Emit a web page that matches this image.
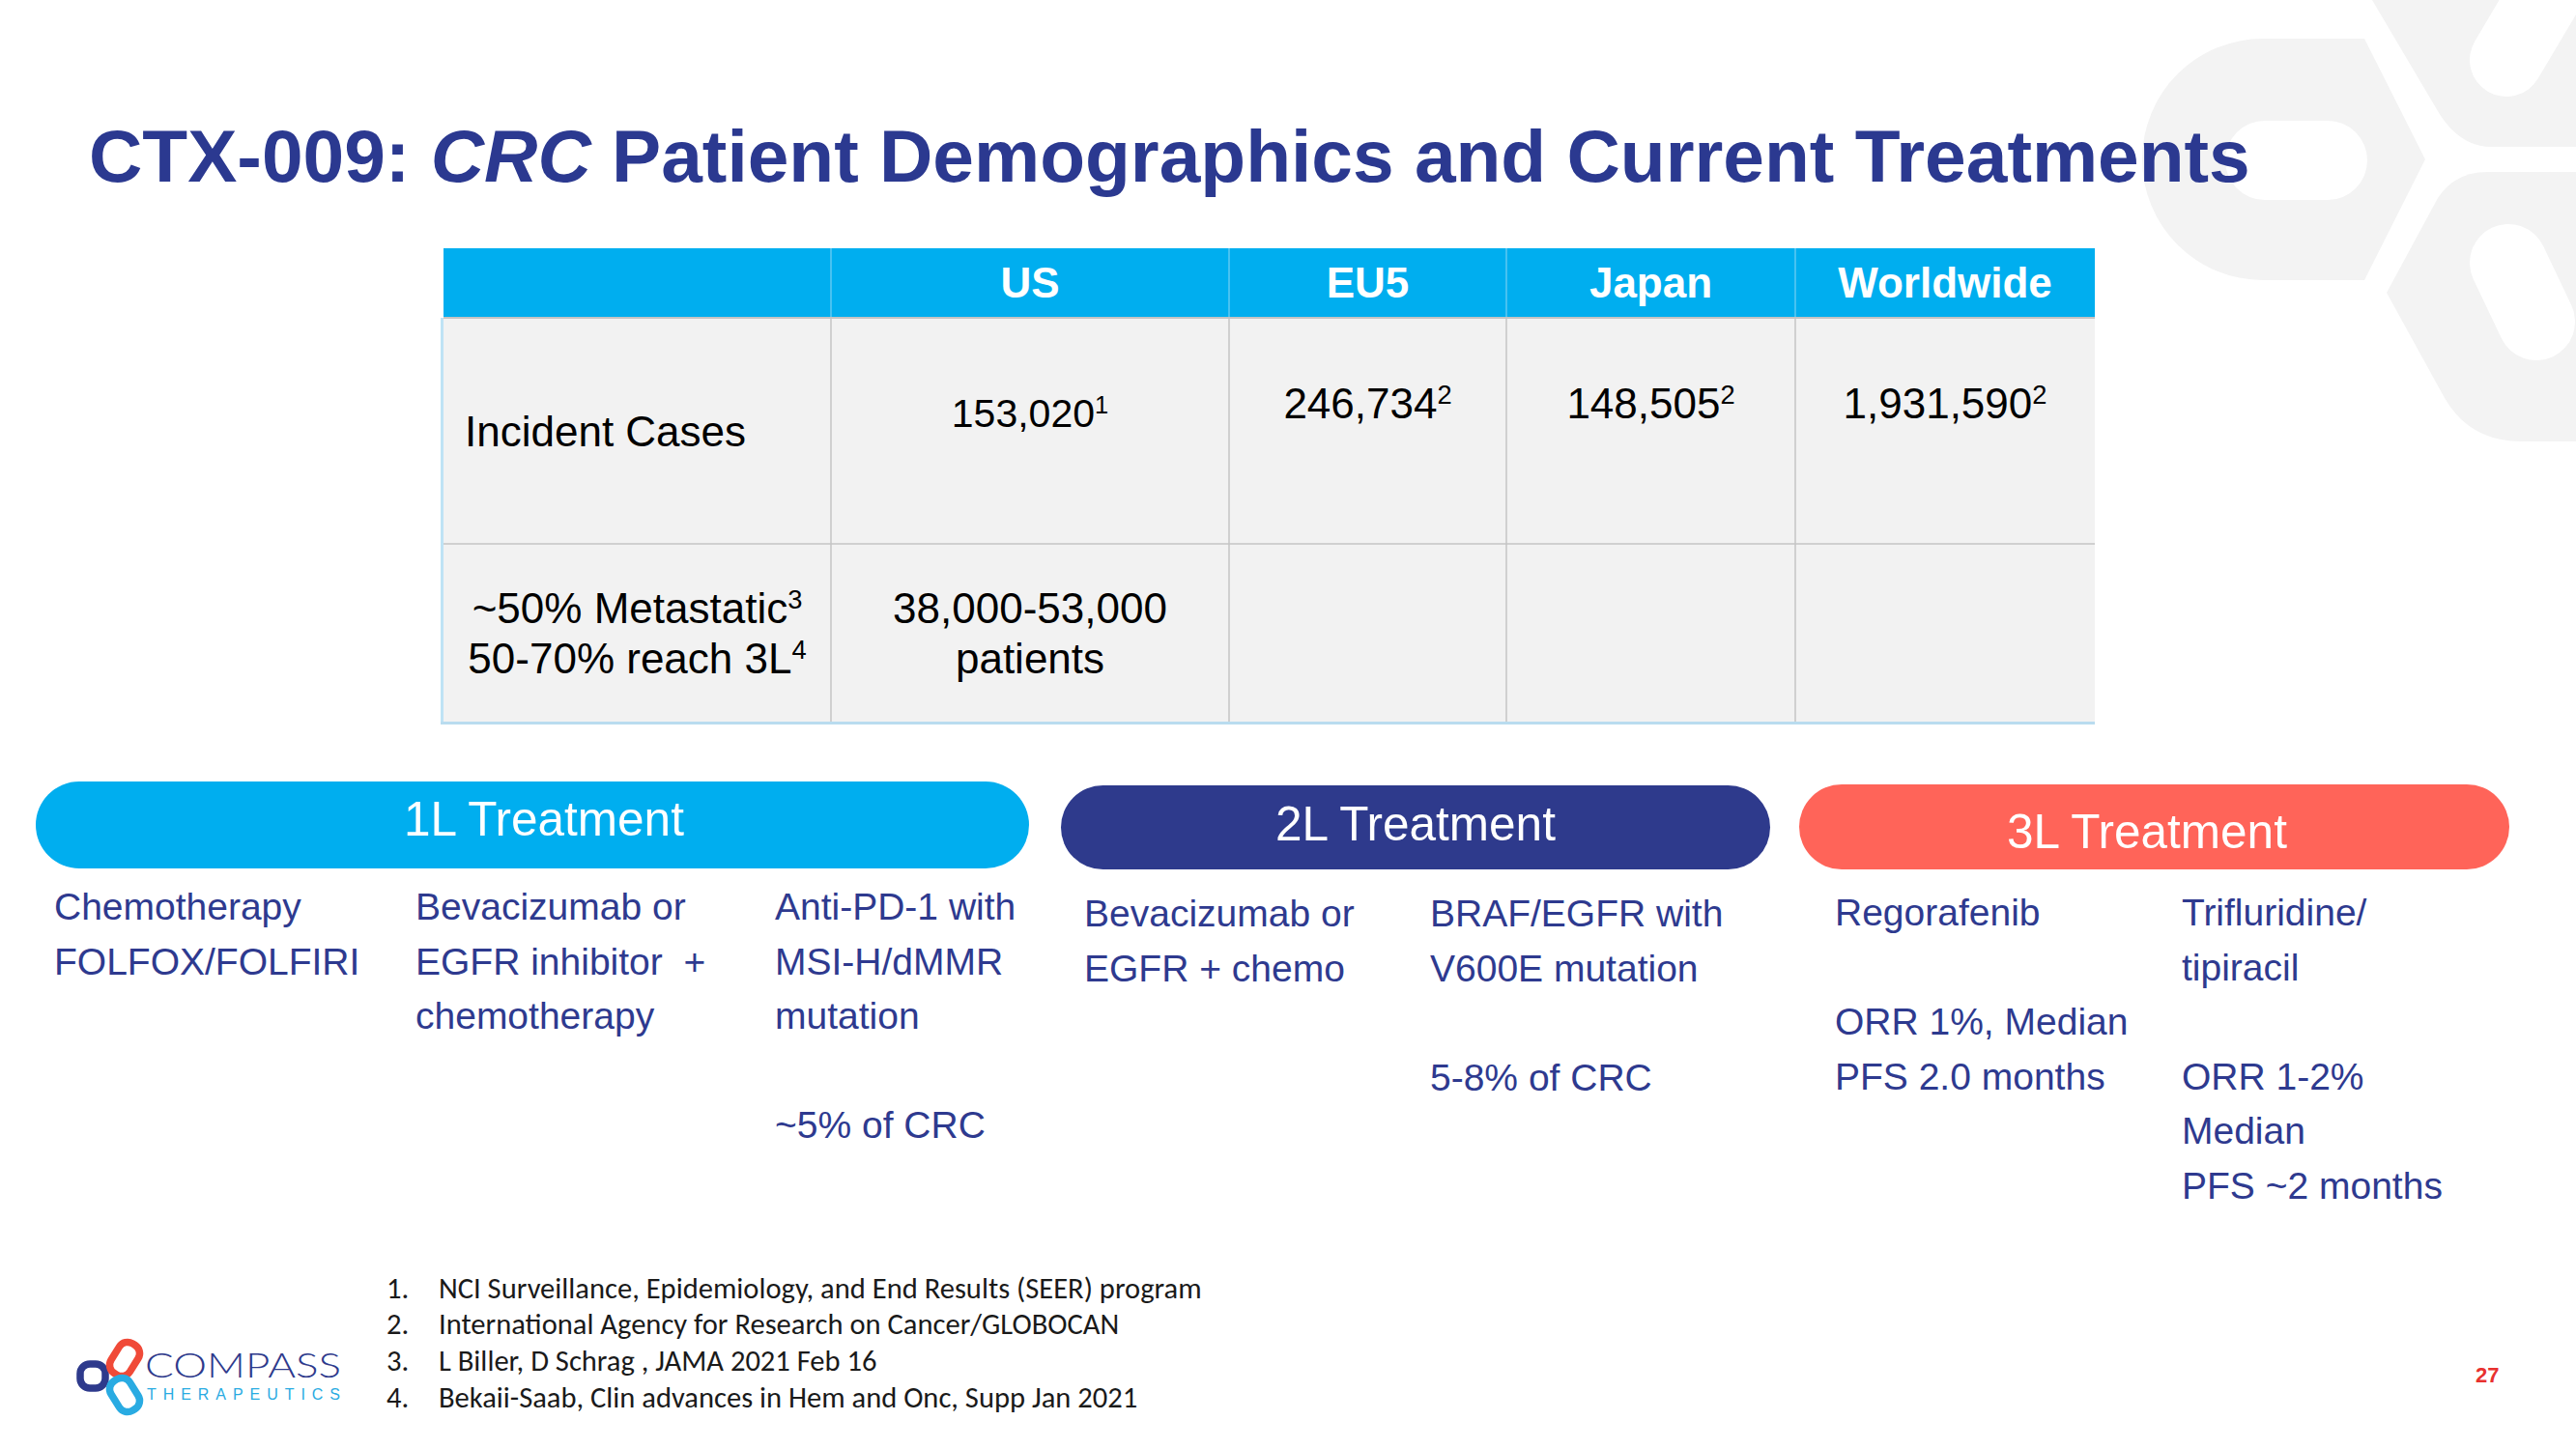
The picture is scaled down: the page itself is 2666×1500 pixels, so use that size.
<!DOCTYPE html>
<html><head><meta charset="utf-8">
<script src="https://cdn.jsdelivr.net/npm/chart.js@4.4.1/dist/chart.umd.min.js"></script>
<style>
html,body{margin:0;padding:0;background:#fff;width:2666px;height:1500px;overflow:hidden}
svg{display:block;position:absolute;left:0;top:0}
</style></head><body>
<svg id="s" width="2666" height="1500" xmlns="http://www.w3.org/2000/svg"></svg>
<script>
// ---------------- DATA ----------------
const titleText = ["CTX-009: ", "CRC", " Patient Demographics and Current Treatments"];
const regions = ["US", "EU5", "Japan", "Worldwide"];
const incidentLabel = "Incident Cases";
const incidentCases = ["153,020", "246,734", "148,505", "1,931,590"];
const incidentRefs = ["1", "2", "2", "2"];
const metastaticLabel = [["~50% Metastatic", "3"], ["50-70% reach 3L", "4"]];
const metastaticValues = [["38,000-53,000", "patients"], [], [], []];
const lineTitles = ["1L Treatment", "2L Treatment", "3L Treatment"];
const treatments1L = [
  ["Chemotherapy", "FOLFOX/FOLFIRI"],
  ["Bevacizumab or", "EGFR inhibitor  +", "chemotherapy"],
  ["Anti-PD-1 with", "MSI-H/dMMR", "mutation", "", "~5% of CRC"]
];
const treatments2L = [
  ["Bevacizumab or", "EGFR + chemo"],
  ["BRAF/EGFR with", "V600E mutation", "", "5-8% of CRC"]
];
const treatments3L = [
  ["Regorafenib", "", "ORR 1%, Median", "PFS 2.0 months"],
  ["Trifluridine/", "tipiracil", "", "ORR 1-2%", "Median", "PFS ~2 months"]
];
const footnotes = [
  "NCI Surveillance, Epidemiology, and End Results (SEER) program",
  "International Agency for Research on Cancer/GLOBOCAN",
  "L Biller, D Schrag , JAMA 2021 Feb 16",
  "Bekaii-Saab, Clin advances in Hem and Onc, Supp Jan 2021"
];
const logoWords = ["COMPASS", "THERAPEUTICS"];
const pageNumber = "27";

// ---------------- DRAWING ----------------
const NS = "http://www.w3.org/2000/svg";
const svg = document.getElementById("s");
function el(tag, attrs, parent) {
  const e = document.createElementNS(NS, tag);
  for (const k in attrs) e.setAttribute(k, attrs[k]);
  (parent || svg).appendChild(e);
  return e;
}
const SANS = "'Liberation Sans', Arial, sans-serif";
function text(x, y, segs, o) {
  o = o || {};
  const f = o.size || 40;
  const t = el("text", {x: x, y: y, "font-family": o.family || SANS, "font-size": f,
    fill: o.fill || "#000", "text-anchor": o.anchor || "start", "font-weight": o.weight || "normal"});
  if (typeof segs === "string") segs = [segs];
  segs.forEach(s => {
    if (typeof s === "string") { const sp = el("tspan", {}, t); sp.textContent = s; }
    else if (s.sup) { const sp = el("tspan", {"font-size": f * 0.62, dy: -f * 0.33}, t); sp.textContent = s.t; }
    else if (s.italic) { const sp = el("tspan", {"font-style": "italic"}, t); sp.textContent = s.t; }
  });
  t.setAttribute("xml:space", "preserve");
  t.style.whiteSpace = "pre";
  return t;
}
function fit(t, w) {
  const cur = t.getComputedTextLength();
  const f = parseFloat(t.getAttribute("font-size"));
  t.setAttribute("font-size", f * w / cur);
}

// background watermark shapes
const WM = "#f3f3f3";
el("path", {d: "M2447 40 L2510 165 L2447 290 L2342 290 A125 125 0 0 1 2342 40 Z M2344 125 L2409 125 A41 41 0 0 1 2409 207 L2344 207 A41 41 0 0 1 2344 125 Z",
  fill: WM, "fill-rule": "evenodd"});
el("path", {d: "M2455 0 L2520 110 Q2543 152 2578 152 L2666 152 L2666 0 Z", fill: WM});
el("line", {x1: 2594, y1: 62, x2: 2690, y2: -100, stroke: "#fff", "stroke-width": 76, "stroke-linecap": "round"});
el("path", {d: "M2666 178 L2575 178 Q2540 178 2523 205 L2470 303 L2530 412 Q2556 457 2610 457 L2666 457 Z", fill: WM});
el("line", {x1: 2596, y1: 272, x2: 2625, y2: 333, stroke: "#fff", "stroke-width": 80, "stroke-linecap": "round"});

// title
const NAVY = "#2b3990";
const title = text(92, 188, [titleText[0], {t: titleText[1], italic: true}, titleText[2]], {size: 77, weight: "bold", fill: NAVY});
fit(title, 2237);

// table
const colX = [459, 860, 1272, 1559, 1858, 2168];
const rowY = [257, 329, 563, 747];
el("rect", {x: 456, y: rowY[1], width: 4, height: rowY[3] - rowY[1] + 3, fill: "#bfe3f5"});
el("rect", {x: 456, y: rowY[3], width: colX[5] - 456, height: 3, fill: "#b9dcef"});
el("rect", {x: colX[0], y: rowY[0], width: colX[5] - colX[0], height: rowY[1] - rowY[0], fill: "#00aeef"});
el("rect", {x: colX[0], y: rowY[1], width: colX[5] - colX[0], height: rowY[3] - rowY[1], fill: "#f2f2f2"});
for (let i = 1; i < 5; i++) {
  el("line", {x1: colX[i], y1: rowY[0], x2: colX[i], y2: rowY[1], stroke: "#5fc8f2", "stroke-width": 1.5});
  el("line", {x1: colX[i], y1: rowY[1], x2: colX[i], y2: rowY[3], stroke: "#c4c4c4", "stroke-width": 1.5});
}
el("line", {x1: colX[0], y1: rowY[1], x2: colX[5], y2: rowY[1], stroke: "#c4c4c4", "stroke-width": 2});
el("line", {x1: colX[0], y1: rowY[2], x2: colX[5], y2: rowY[2], stroke: "#c4c4c4", "stroke-width": 1.5});
regions.forEach((r, i) => {
  text((colX[i + 1] + colX[i + 2]) / 2, 308, r, {size: 44, weight: "bold", fill: "#fff", anchor: "middle"});
});
text(481, 462, incidentLabel, {size: 44});
incidentCases.forEach((v, i) => {
  const first = i === 0;
  text((colX[i + 1] + colX[i + 2]) / 2, first ? 442 : 433, [v, {t: incidentRefs[i], sup: true}],
    {size: first ? 41 : 44, anchor: "middle"});
});
const rowBase = [645, 697];
metastaticLabel.forEach((l, j) => {
  text((colX[0] + colX[1]) / 2, rowBase[j], [l[0], {t: l[1], sup: true}], {size: 44, anchor: "middle"});
});
metastaticValues.forEach((vals, i) => {
  vals.forEach((v, j) => text((colX[i + 1] + colX[i + 2]) / 2, rowBase[j], v, {size: 44, anchor: "middle"}));
});

// treatment pills
const pills = [
  {x: 37, y: 809, w: 1028, h: 90, c: "#00aeef", tx: 563, ty: 865},
  {x: 1098, y: 813, w: 734, h: 87, c: "#2e3a8c", tx: 1465, ty: 870},
  {x: 1862, y: 812, w: 735, h: 88, c: "#ff6459", tx: 2222, ty: 878}
];
pills.forEach((p, i) => {
  el("rect", {x: p.x, y: p.y, width: p.w, height: p.h, rx: p.h / 2, ry: p.h / 2, fill: p.c});
  text(p.tx, p.ty, lineTitles[i], {size: 49.5, fill: "#fff", anchor: "middle"});
});

const TXT = "#2e3a8f";
function column(lines, x, y0) {
  lines.forEach((l, k) => { if (l) text(x, y0 + k * 56.5, l, {size: 39, fill: TXT}); });
}
column(treatments1L[0], 56, 952);
column(treatments1L[1], 430, 952);
column(treatments1L[2], 802, 952);
column(treatments2L[0], 1122, 959);
column(treatments2L[1], 1480, 959);
column(treatments3L[0], 1899, 958);
column(treatments3L[1], 2258, 958);

// footnotes
const FN = "Carlito, Lato, 'Open Sans', sans-serif";
const fnBase = [1344, 1381, 1419, 1457];
let fnSize = 26;
const probe = text(454, fnBase[0], footnotes[0], {size: fnSize, family: FN, fill: "#1a1a1a"});
fnSize = fnSize * 790 / probe.getComputedTextLength();
probe.remove();
footnotes.forEach((f, i) => {
  text(400, fnBase[i], (i + 1) + ".", {size: fnSize, family: FN, fill: "#1a1a1a"});
  text(454, fnBase[i], f, {size: fnSize, family: FN, fill: "#1a1a1a"});
});

// logo
const lg = el("g", {});
el("rect", {x: 83, y: 1412, width: 26, height: 25, rx: 10, fill: "none", stroke: "#2e3a8c", "stroke-width": 7.5}, lg);
const r1 = el("g", {transform: "translate(129 1407) rotate(-58)"}, lg);
el("rect", {x: -18, y: -11.5, width: 36, height: 23, rx: 10, fill: "none", stroke: "#f04a38", "stroke-width": 7.5}, r1);
const r2 = el("g", {transform: "translate(129 1444) rotate(58)"}, lg);
el("rect", {x: -18, y: -11.5, width: 36, height: 23, rx: 10, fill: "none", stroke: "#29abe2", "stroke-width": 7.5}, r2);
const cmp = text(150, 1426, logoWords[0], {size: 35, family: "Lato, 'Open Sans', sans-serif", weight: 300, fill: "#2e3a8c"});
cmp.setAttribute("textLength", 203); cmp.setAttribute("lengthAdjust", "spacingAndGlyphs");
const thr = text(152, 1449, logoWords[1], {size: 16, family: SANS, fill: "#29abe2"});
thr.setAttribute("textLength", 200); thr.setAttribute("lengthAdjust", "spacing");

// page number
text(2562, 1431, pageNumber, {size: 22, weight: "bold", fill: "#e8312f"});
</script>
</body></html>
